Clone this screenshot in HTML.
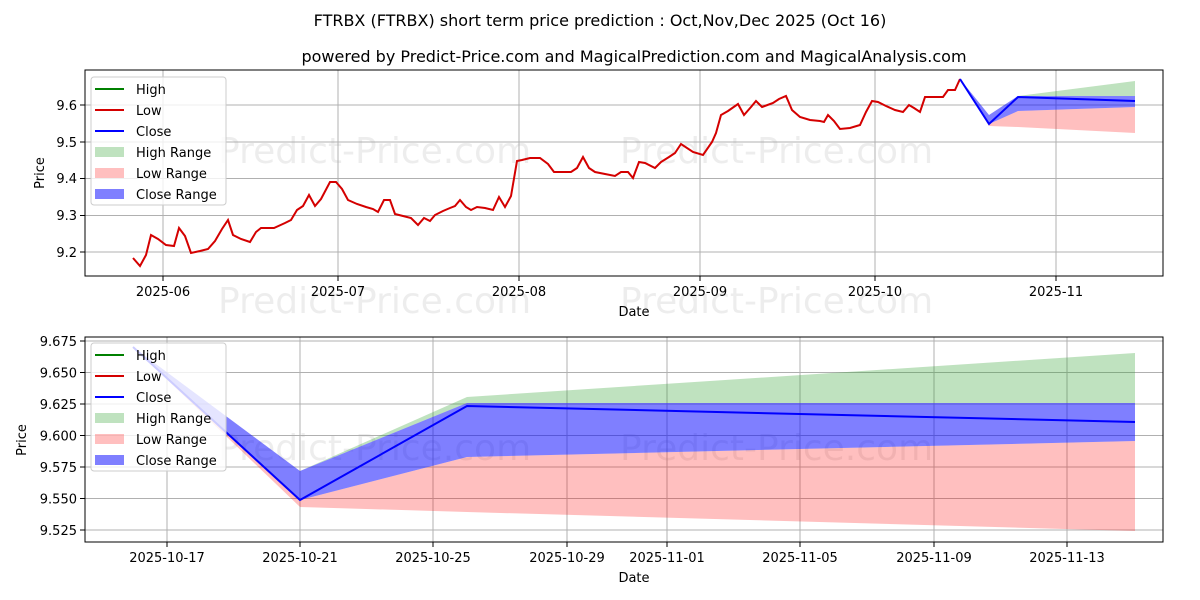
<!DOCTYPE html>
<html><head><meta charset="utf-8"><style>body{margin:0;background:#fff}svg{display:block}text{font-family:"DejaVu Sans","Liberation Sans",sans-serif}</style></head><body>
<svg width="1200" height="600" viewBox="0 0 1200 600" xmlns="http://www.w3.org/2000/svg">
<rect width="1200" height="600" fill="#fff"/>
<text x="600" y="26" font-size="16" text-anchor="middle">FTRBX (FTRBX) short term price prediction : Oct,Nov,Dec 2025 (Oct 16)</text>
<text x="634" y="62" font-size="16" text-anchor="middle">powered by Predict-Price.com and MagicalPrediction.com and MagicalAnalysis.com</text>
<g fill="#000" fill-opacity="0.07" font-size="36"><text x="218" y="163">Predict-Price.com</text><text x="620" y="163">Predict-Price.com</text><text x="218" y="313">Predict-Price.com</text><text x="620" y="313">Predict-Price.com</text><text x="218" y="460">Predict-Price.com</text><text x="620" y="460">Predict-Price.com</text></g>
<!-- top chart -->
<g stroke="#b0b0b0" stroke-width="1">
<line x1="163" y1="70" x2="163" y2="276"/><line x1="338" y1="70" x2="338" y2="276"/><line x1="519" y1="70" x2="519" y2="276"/><line x1="700" y1="70" x2="700" y2="276"/><line x1="875" y1="70" x2="875" y2="276"/><line x1="1056" y1="70" x2="1056" y2="276"/>
<line x1="85" y1="252" x2="1163" y2="252"/><line x1="85" y1="215.5" x2="1163" y2="215.5"/><line x1="85" y1="178.5" x2="1163" y2="178.5"/><line x1="85" y1="142" x2="1163" y2="142"/><line x1="85" y1="105" x2="1163" y2="105"/>
</g>
<polygon points="960,79 989,115 1018,96 1135,81 1135,96 1018,96 989,115" fill="#2ca02c" fill-opacity="0.3"/>
<polygon points="960,79 989,124 1018,111 1135,107 1135,133 1018,127 989,126" fill="#ff0000" fill-opacity="0.25"/>
<polygon points="960,79 989,115 1018,96 1135,96 1135,107 1018,111 989,124" fill="#0000ff" fill-opacity="0.5"/>
<polyline fill="none" stroke="#d40000" stroke-width="2" points="133,258 140,266 146,255 151,235 158,239 166,245 174,246 179,228 185,236 191,253 200,251 208,249 215,241 222,229 228,220 233,235 241,239 250,242 256,232 261,228 274,228 285,223 291,220 297,210 303,206 309,195 315,206 321,199 330,182 336,182 342,189 348,200 357,204 366,207 373,209 378,212 384,200 390,200 395,214 403,216 411,218 418,225 424,218 430,221 435,215 443,211 450,208 455,206 460,200 466,207 471,210 477,207 485,208 493,210 499,197 505,207 511,196 517,161 522,160 530,158 540,158 548,164 554,172 560,172 571,172 577,168 583,157 589,168 595,172 605,174 615,176 621,172 628,172 633,178 639,162 645,163 655,168 661,162 669,157 675,153 681,144 693,152 703,155 712,142 716,133 721,115 728,111 738,104 744,115 751,107 756,101 762,107 773,103 779,99 786,96 792,110 800,117 810,120 820,121 824,122 828,115 834,121 840,129 850,128 860,125 866,112 872,101 878,102 886,106 895,110 903,112 909,105 914,108 920,112 925,97 935,97 943,97 948,90 955,90 960,79"/>
<polyline fill="none" stroke="#0000ff" stroke-width="2" points="960,79 989,124 1018,97 1135,101"/>
<rect x="85" y="70" width="1078" height="206" fill="none" stroke="#000"/>
<g font-size="13" text-anchor="end"><text x="77" y="257">9.2</text><text x="77" y="220">9.3</text><text x="77" y="183">9.4</text><text x="77" y="147">9.5</text><text x="77" y="110">9.6</text></g>
<g stroke="#000"><line x1="80" y1="252" x2="85" y2="252"/><line x1="80" y1="215.5" x2="85" y2="215.5"/><line x1="80" y1="178.5" x2="85" y2="178.5"/><line x1="80" y1="142" x2="85" y2="142"/><line x1="80" y1="105" x2="85" y2="105"/>
<line x1="163" y1="276" x2="163" y2="281"/><line x1="338" y1="276" x2="338" y2="281"/><line x1="519" y1="276" x2="519" y2="281"/><line x1="700" y1="276" x2="700" y2="281"/><line x1="875" y1="276" x2="875" y2="281"/><line x1="1056" y1="276" x2="1056" y2="281"/></g>
<g font-size="13" text-anchor="middle"><text x="163" y="296">2025-06</text><text x="338" y="296">2025-07</text><text x="519" y="296">2025-08</text><text x="700" y="296">2025-09</text><text x="875" y="296">2025-10</text><text x="1056" y="296">2025-11</text><text x="634" y="316">Date</text></g>
<text x="44" y="173" font-size="13" text-anchor="middle" transform="rotate(-90 44 173)">Price</text>
<g><rect x="91" y="77" width="135" height="128" fill="#fff" fill-opacity="0.8" stroke="#ccc" rx="3"/>
<line x1="95" y1="89" x2="124" y2="89" stroke="green" stroke-width="2"/><line x1="95" y1="110" x2="124" y2="110" stroke="#d40000" stroke-width="2"/><line x1="95" y1="131" x2="124" y2="131" stroke="blue" stroke-width="2"/>
<rect x="95" y="147" width="29" height="10" fill="#2ca02c" fill-opacity="0.3"/><rect x="95" y="168" width="29" height="10" fill="#f00" fill-opacity="0.25"/><rect x="95" y="189" width="29" height="10" fill="#00f" fill-opacity="0.5"/>
<g font-size="13"><text x="136" y="94">High</text><text x="136" y="115">Low</text><text x="136" y="136">Close</text><text x="136" y="157">High Range</text><text x="136" y="178">Low Range</text><text x="136" y="199">Close Range</text></g></g>
<!-- bottom chart -->
<g stroke="#b0b0b0" stroke-width="1">
<line x1="167" y1="337" x2="167" y2="542"/><line x1="300" y1="337" x2="300" y2="542"/><line x1="433" y1="337" x2="433" y2="542"/><line x1="567" y1="337" x2="567" y2="542"/><line x1="667" y1="337" x2="667" y2="542"/><line x1="800" y1="337" x2="800" y2="542"/><line x1="934" y1="337" x2="934" y2="542"/><line x1="1067" y1="337" x2="1067" y2="542"/>
<line x1="85" y1="530" x2="1163" y2="530"/><line x1="85" y1="498.5" x2="1163" y2="498.5"/><line x1="85" y1="467" x2="1163" y2="467"/><line x1="85" y1="435.5" x2="1163" y2="435.5"/><line x1="85" y1="404" x2="1163" y2="404"/><line x1="85" y1="372.5" x2="1163" y2="372.5"/><line x1="85" y1="341" x2="1163" y2="341"/>
</g>
<polygon points="133,347 300,471 467,397 1135,353 1135,403 467,403 300,471" fill="#2ca02c" fill-opacity="0.3"/>
<polygon points="133,347 300,500 467,457 1135,441 1135,531 467,512 300,507" fill="#ff0000" fill-opacity="0.25"/>
<polygon points="133,347 300,471 467,403 1135,403 1135,441 467,457 300,500" fill="#0000ff" fill-opacity="0.5"/>
<polyline fill="none" stroke="#0000ff" stroke-width="2" points="133,347 300,500 467,406 1135,422"/>
<rect x="85" y="337" width="1078" height="205" fill="none" stroke="#000"/>
<g font-size="13" text-anchor="end"><text x="77" y="535">9.525</text><text x="77" y="503.5">9.550</text><text x="77" y="472">9.575</text><text x="77" y="440.5">9.600</text><text x="77" y="409">9.625</text><text x="77" y="377.5">9.650</text><text x="77" y="346">9.675</text></g>
<g stroke="#000"><line x1="80" y1="530" x2="85" y2="530"/><line x1="80" y1="498.5" x2="85" y2="498.5"/><line x1="80" y1="467" x2="85" y2="467"/><line x1="80" y1="435.5" x2="85" y2="435.5"/><line x1="80" y1="404" x2="85" y2="404"/><line x1="80" y1="372.5" x2="85" y2="372.5"/><line x1="80" y1="341" x2="85" y2="341"/>
<line x1="167" y1="542" x2="167" y2="547"/><line x1="300" y1="542" x2="300" y2="547"/><line x1="433" y1="542" x2="433" y2="547"/><line x1="567" y1="542" x2="567" y2="547"/><line x1="667" y1="542" x2="667" y2="547"/><line x1="800" y1="542" x2="800" y2="547"/><line x1="934" y1="542" x2="934" y2="547"/><line x1="1067" y1="542" x2="1067" y2="547"/></g>
<g font-size="13" text-anchor="middle"><text x="167" y="562">2025-10-17</text><text x="300" y="562">2025-10-21</text><text x="433" y="562">2025-10-25</text><text x="567" y="562">2025-10-29</text><text x="667" y="562">2025-11-01</text><text x="800" y="562">2025-11-05</text><text x="934" y="562">2025-11-09</text><text x="1067" y="562">2025-11-13</text><text x="634" y="582">Date</text></g>
<text x="26" y="440" font-size="13" text-anchor="middle" transform="rotate(-90 26 440)">Price</text>
<g><rect x="91" y="343" width="135" height="128" fill="#fff" fill-opacity="0.8" stroke="#ccc" rx="3"/>
<line x1="95" y1="355" x2="124" y2="355" stroke="green" stroke-width="2"/><line x1="95" y1="376" x2="124" y2="376" stroke="#d40000" stroke-width="2"/><line x1="95" y1="397" x2="124" y2="397" stroke="blue" stroke-width="2"/>
<rect x="95" y="413" width="29" height="10" fill="#2ca02c" fill-opacity="0.3"/><rect x="95" y="434" width="29" height="10" fill="#f00" fill-opacity="0.25"/><rect x="95" y="455" width="29" height="10" fill="#00f" fill-opacity="0.5"/>
<g font-size="13"><text x="136" y="360">High</text><text x="136" y="381">Low</text><text x="136" y="402">Close</text><text x="136" y="423">High Range</text><text x="136" y="444">Low Range</text><text x="136" y="465">Close Range</text></g></g>
</svg>
</body></html>
